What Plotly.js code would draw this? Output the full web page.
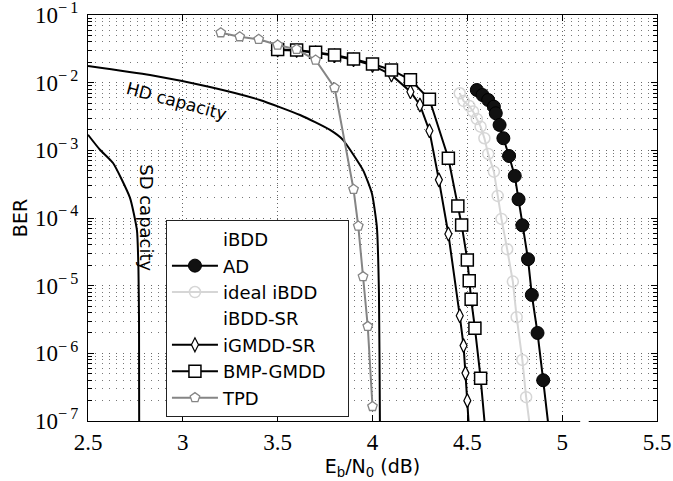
<!DOCTYPE html>
<html>
<head>
<meta charset="utf-8">
<script src="https://cdn.plot.ly/plotly-3.0.1.min.js"></script>
<style>html,body{margin:0;padding:0;background:#fff}#chart{width:673px;height:481px}</style>
</head>
<body>
<div id="chart"></div>
<script>
// ---- data ----
const sdCapX = [2.5, 2.563, 2.632, 2.721, 2.758, 2.766, 2.769, 2.77];
const sdCapY = [1.7e-3, 1.02e-3, 6.5e-4, 2.0e-4, 6.6e-5, 1.7e-5, 3e-6, 3e-8];

const hdCapX = [2.5, 2.827, 3.143, 3.406, 3.618, 3.776, 3.844, 3.95, 3.997, 4.023, 4.034, 4.039, 4.04];
const hdCapY = [0.0177, 0.0130, 8.63e-3, 5.55e-3, 3.33e-3, 2.0e-3, 1.43e-3, 5.1e-4, 2.3e-4, 7.4e-5, 7.8e-6, 1e-7, 3e-8];

const adX = [4.55, 4.58, 4.61, 4.64, 4.65, 4.67, 4.69, 4.72, 4.75, 4.77, 4.79, 4.82, 4.84, 4.87, 4.90, 4.937];
const adY = [7.8e-3, 6.57e-3, 5.55e-3, 4.42e-3, 3.53e-3, 2.37e-3, 1.51e-3, 8.25e-4, 4.19e-4, 1.89e-4, 7.8e-5, 2.46e-5, 7.3e-6, 2.0e-6, 4e-7, 5e-8];

const idealX = [4.46, 4.48, 4.51, 4.53, 4.55, 4.57, 4.59, 4.61, 4.64, 4.66, 4.68, 4.71, 4.74, 4.76, 4.79, 4.81, 4.84];
const idealY = [6.97e-3, 5.37e-3, 4.53e-3, 3.76e-3, 2.91e-3, 2.24e-3, 1.51e-3, 8.85e-4, 4.84e-4, 2.12e-4, 9.7e-5, 3.46e-5, 1.15e-5, 3.42e-6, 8e-7, 2.25e-7, 5e-8];

const igmddX = [3.5, 3.6, 3.7, 3.8, 3.9, 4.0, 4.1, 4.2, 4.25, 4.3, 4.35, 4.4, 4.46, 4.48, 4.49, 4.5, 4.513];
const igmddY = [0.0305, 0.0298, 0.0276, 0.0250, 0.0218, 0.0180, 0.013, 7.36e-3, 4.69e-3, 1.95e-3, 3.66e-4, 5.8e-5, 3.6e-6, 1.3e-6, 5.1e-7, 2e-7, 5e-8];

const bmpX = [3.5, 3.6, 3.7, 3.8, 3.9, 4.0, 4.1, 4.2, 4.3, 4.4, 4.45, 4.47, 4.5, 4.51, 4.52, 4.54, 4.57, 4.60];
const bmpY = [0.031, 0.0304, 0.0281, 0.0256, 0.0224, 0.0189, 0.0154, 0.011, 5.69e-3, 7.64e-4, 1.51e-4, 7.9e-5, 2.4e-5, 1.18e-5, 6.3e-6, 2.35e-6, 4.3e-7, 5e-8];

const tpdX = [3.2, 3.3, 3.4, 3.5, 3.6, 3.7, 3.8, 3.9, 3.925, 3.95, 3.975, 4.0];
const tpdY = [0.0548, 0.0478, 0.0437, 0.036, 0.0311, 0.0216, 0.00843, 2.66e-4, 7.6e-5, 1.36e-5, 2.5e-6, 1.64e-7];

const xTickVals = [2.5, 3, 3.5, 4, 4.5, 5, 5.5];
const xTickText = ['2.5', '3', '3.5', '4', '4.5', '5', '5.5'];
const yTickVals = [1e-7, 1e-6, 1e-5, 1e-4, 1e-3, 1e-2, 1e-1];
const yExponents = ['7', '6', '5', '4', '3', '2', '1'];
const yTickText = yExponents.map(e => '10<sup>−\u2009' + e + '</sup>');

const legendNames = ['iBDD', 'AD', 'ideal iBDD', 'iBDD-SR', 'iGMDD-SR', 'BMP-GMDD', 'TPD'];

// ---- traces ----
const SANS = 'DejaVu Sans, sans-serif';
const SERIF = 'Liberation Serif, serif';
const LW = 2;
const PAD = '\u00a0\u00a0\u00a0';

const traces = [
  {x: sdCapX, y: sdCapY, mode: 'lines', line: {color: '#000', width: LW, shape: 'spline', smoothing: 0.5}, showlegend: false, hoverinfo: 'skip'},
  {x: hdCapX, y: hdCapY, mode: 'lines', line: {color: '#000', width: LW, shape: 'spline', smoothing: 0.5}, showlegend: false, hoverinfo: 'skip'},
  {x: [null], y: [null], name: legendNames[0], mode: 'lines', line: {color: 'rgba(0,0,0,0)', width: 0}},
  {x: adX, y: adY, name: legendNames[1], mode: 'lines+markers', line: {color: '#000', width: LW},
   marker: {symbol: 'circle', size: 13, color: '#111', line: {color: '#000', width: 1}}},
  {x: idealX, y: idealY, name: legendNames[2], mode: 'lines+markers', line: {color: '#d6d6d6', width: LW},
   marker: {symbol: 'circle-open', size: 11, color: '#d6d6d6', line: {color: '#d6d6d6', width: 1.5}}},
  {x: [null], y: [null], name: legendNames[3], mode: 'lines', line: {color: 'rgba(0,0,0,0)', width: 0}},
  {x: igmddX, y: igmddY, name: legendNames[4], mode: 'lines+markers', line: {color: '#000', width: LW},
   marker: {symbol: 'diamond-tall', size: 10, color: '#fff', line: {color: '#000', width: 1.2}}},
  {x: bmpX, y: bmpY, name: legendNames[5] + PAD, mode: 'lines+markers', line: {color: '#000', width: LW},
   marker: {symbol: 'square', size: 12, color: '#fff', line: {color: '#000', width: 1.5}}},
  {x: tpdX, y: tpdY, name: legendNames[6], mode: 'lines+markers', line: {color: '#858585', width: LW},
   marker: {symbol: 'pentagon', size: 10, color: '#fff', line: {color: '#858585', width: 1.3}}}
];

const axisCommon = {
  showline: true, linecolor: '#000', linewidth: 1, mirror: 'ticks',
  ticks: 'inside', tickcolor: '#000', ticklen: 6, tickwidth: 1,
  showgrid: true, gridcolor: '#666', griddash: '1px,6px', gridwidth: 1,
  zeroline: false, ticklabeloverflow: 'allow',
  tickfont: {family: SERIF, size: 23, color: '#000'}
};

const layout = {
  width: 673, height: 481,
  margin: {l: 88, r: 16, t: 15, b: 60},
  paper_bgcolor: '#fff', plot_bgcolor: '#fff',
  xaxis: Object.assign({}, axisCommon, {
    range: [2.5, 5.5], tickvals: xTickVals, ticktext: xTickText,
    griddash: '1px,3px', ticklabelstandoff: 0,
    title: {text: 'E<sub>b</sub>/N<sub>0</sub> (dB)', font: {family: SANS, size: 19, color: '#000'}, standoff: 6}
  }),
  yaxis: Object.assign({}, axisCommon, {
    type: 'log', range: [-7, -1], tickvals: yTickVals, ticktext: yTickText,
    ticklabelstandoff: 4,
    minor: {ticks: 'inside', ticklen: 4, tickcolor: '#000', dtick: 'D1', showgrid: true, gridcolor: '#777', griddash: '1px,6px', gridwidth: 1},
    title: {text: 'BER', font: {family: SANS, size: 19, color: '#000'}, standoff: 2}
  }),
  legend: {
    x: 0.137, y: 0.495, xanchor: 'left', yanchor: 'top',
    bgcolor: '#fff', bordercolor: '#222', borderwidth: 1,
    font: {family: SANS, size: 18, color: '#000'},
    itemwidth: 46, traceorder: 'normal'
  },
  shapes: [
    {type: 'rect', xref: 'x', yref: 'paper', x0: 5.095, x1: 5.14, y0: -0.004, y1: 0.004, fillcolor: '#fff', line: {width: 0}, layer: 'above'}
  ],
  annotations: [
    {x: 2.964, y: -2.27, xref: 'x', yref: 'y', text: 'HD capacity', showarrow: false, textangle: 15,
     font: {family: SANS, size: 17, color: '#000'}},
    {x: 2.81, y: -4.0, xref: 'x', yref: 'y', text: 'SD capacity', showarrow: false, textangle: 90,
     font: {family: SANS, size: 18, color: '#000'}}
  ],
  showlegend: true
};

Plotly.newPlot('chart', traces, layout, {displayModeBar: false, staticPlot: true});
</script>
</body>
</html>
